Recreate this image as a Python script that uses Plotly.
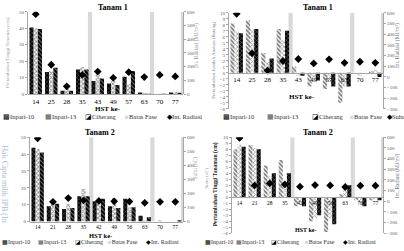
import plotly.graph_objects as go

# ---------------- data ----------------
hst1 = ["14", "25", "28", "35", "43", "49", "57", "63", "70", "77"]
hst2 = ["14", "21", "28", "35", "42", "49", "56", "63", "70", "77"]

# Tanam 1 - pertambahan tinggi tanaman (cm)
t1_tinggi_inpari10 = [40.5, 13.5, 2.0, 15.0, 8.0, 6.5, 10.5, 1.0, 0.0, 1.0]
t1_tinggi_inpari13 = [40.0, 14.0, 4.0, 16.5, 12.0, 8.0, 6.0, 0.3, -0.5, 1.5]
t1_tinggi_ciherang = [39.5, 16.0, 2.0, 15.0, 9.5, 5.5, 14.0, 0.2, 0.2, 0.5]
t1_radiasi = [583, 214, 57, 140, 164, 119, 160, 124, 140, 129]

# Tanam 1 - pertambahan jumlah anakan (batang)
t1_anakan_inpari10 = [8.2, 8.7, 3.3, 7.3, 1.0, -2.3, -2.7, -5.0, 0.0, 0.2]
t1_anakan_inpari13 = [6.9, 7.3, 2.0, 5.5, -0.5, -1.0, -1.5, -2.3, -0.5, 0.5]
t1_anakan_ciherang = [6.6, 7.3, 2.4, 7.0, -0.5, -1.3, -2.3, -2.3, 0.0, -0.7]
t1_suhu = [590, 220, 59, 148, 167, 125, 164, 131, 141, 131]

# Tanam 2 - pertambahan tinggi tanaman (cm)
t2_tinggi_inpari10 = [43.8, 9.0, 7.5, 15.0, 12.0, 9.0, 13.5, 3.5, 0.0, 0.0]
t2_tinggi_inpari13 = [43.0, 11.5, 10.5, 19.5, 12.0, 14.0, 8.5, 0.5, 0.5, 0.0]
t2_tinggi_ciherang = [41.0, 10.5, 8.0, 15.0, 13.5, 8.0, 8.5, 2.5, 0.0, 0.5]
t2_radiasi = [593, 140, 167, 151, 147, 144, 142, 133, 140, 140]

# Tanam 2 - right panel
t2_b_inpari10 = [8.0, 8.7, 5.3, 6.2, -1.5, -4.0, -5.8, 0.5, -0.5, -0.5]
t2_b_inpari13 = [8.8, 8.2, 3.5, 2.0, -1.0, -3.5, -3.5, 1.5, -1.0, -0.3]
t2_b_ciherang = [8.4, 8.0, 4.0, 4.0, -1.5, -3.0, -4.5, 2.0, -1.5, -0.5]
t2_b_radiasi = [594, 149, 168, 158, 137, 152, 149, 134, 146, 146]

# phase boundaries: located just after these HST categories
batas_fase_after = ["35", "63", "77"]

# ---------------- figure ----------------
W, H = 404, 251
SERIF = "Liberation Serif"


def px_x(x):
    return x / W


def px_y(y):
    return 1 - y / H


fig = go.Figure()

panels = [
    dict(cats=hst1, bars=[t1_tinggi_inpari10, t1_tinggi_inpari13, t1_tinggi_ciherang],
         line=t1_radiasi, lname="Int. Radiasi", xd=(28, 183), yd=(10, 94),
         lr=(0, 50), ld=10, rr=(0, 600), rd=100, ax=("x", "y", "y2"), style="A"),
    dict(cats=hst1, bars=[t1_anakan_inpari10, t1_anakan_inpari13, t1_anakan_ciherang],
         line=t1_suhu, lname="Suhu", xd=(229, 383), yd=(11, 109),
         lr=(-6, 10), ld=1, rr=(-300, 600), rd=100, ax=("x2", "y3", "y4"), style="B"),
    dict(cats=hst2, bars=[t2_tinggi_inpari10, t2_tinggi_inpari13, t2_tinggi_ciherang],
         line=t2_radiasi, lname="Int. Radiasi", xd=(30, 183), yd=(138, 224),
         lr=(0, 50), ld=10, rr=(0, 600), rd=100, ax=("x3", "y5", "y6"), style="A"),
    dict(cats=hst2, bars=[t2_b_inpari10, t2_b_inpari13, t2_b_ciherang],
         line=t2_b_radiasi, lname="Int. Radiasi", xd=(232, 383), yd=(138, 236),
         lr=(-6, 10), ld=1, rr=(-300, 600), rd=100, ax=("x4", "y7", "y8"), style="B"),
]

names = ["Inpari-10", "Inpari-13", "Ciherang"]
patterns = {
    "A": [dict(shape="x", fgcolor="#fff", bgcolor="#000", size=3, solidity=0.25),
          dict(shape="x", fgcolor="#222", bgcolor="#fff", size=3, solidity=0.5),
          dict(shape="\\", fgcolor="#fff", bgcolor="#000", size=3, solidity=0.3)],
    "B": [dict(shape="\\", fgcolor="#000", bgcolor="#fff", size=3, solidity=0.6),
          dict(shape="x", fgcolor="#333", bgcolor="#fff", size=3, solidity=0.45),
          dict(shape="x", fgcolor="#fff", bgcolor="#000", size=3, solidity=0.3)],
}
bw = 0.27
offsets = [-1.5 * bw, -0.5 * bw, 0.5 * bw]

layout_axes = {}
for i, p in enumerate(panels):
    xa, ya, ya2 = p["ax"]
    idx = list(range(len(p["cats"])))
    bpos = [p["cats"].index(c) + 0.5 for c in batas_fase_after]
    fig.add_trace(go.Bar(x=bpos, y=[p["lr"][1]] * len(bpos), width=0.27,
                         marker=dict(color="#d9d9d9", line=dict(width=0)),
                         name="Batas Fase", xaxis=xa, yaxis=ya, showlegend=False))
    for s, vals in enumerate(p["bars"]):
        fig.add_trace(go.Bar(x=idx, y=vals, width=bw, offset=offsets[s],
                             marker=dict(color="#000", pattern=patterns[p["style"]][s],
                                         line=dict(width=0)),
                             name=names[s], xaxis=xa, yaxis=ya, showlegend=False))
    fig.add_trace(go.Scatter(x=idx, y=p["line"], mode="markers",
                             marker=dict(symbol="diamond", size=6, color="#000"),
                             name=p["lname"], xaxis=xa, yaxis=ya2, showlegend=False))

    xdom = [px_x(p["xd"][0]), px_x(p["xd"][1])]
    ydom = [px_y(p["yd"][1]), px_y(p["yd"][0])]
    lr = p["lr"]
    zero_pos = ydom[0] + (0 - lr[0]) / (lr[1] - lr[0]) * (ydom[1] - ydom[0])
    xkey = "xaxis" + ("" if i == 0 else str(i + 1))
    ykey = "yaxis" + ya[1:]
    y2key = "yaxis" + ya2[1:]
    tick_sz = 7 if i < 2 else 5.5
    layout_axes[xkey] = dict(
        domain=xdom, range=[-0.5, 9.5], tickvals=idx, ticktext=p["cats"],
        anchor="free", position=zero_pos, showline=True, linecolor="#a6a6a6",
        linewidth=1, ticks="", tickfont=dict(family=SERIF, size=tick_sz, color="#000"),
        showgrid=False, zeroline=False, fixedrange=True)
    layout_axes[ykey] = dict(
        domain=ydom, range=list(lr), dtick=p["ld"], anchor=xa, showline=True,
        linecolor="#a6a6a6", linewidth=1, ticks="outside", ticklen=2,
        tickcolor="#a6a6a6", tickfont=dict(family=SERIF, size=5, color="#595959"),
        showgrid=False, zeroline=False)
    layout_axes[y2key] = dict(
        range=list(p["rr"]), dtick=p["rd"], overlaying=ya, side="right", anchor=xa,
        showline=True, linecolor="#a6a6a6", linewidth=1, ticks="outside", ticklen=2,
        tickcolor="#a6a6a6", tickfont=dict(family=SERIF, size=5, color="#595959"),
        showgrid=False, zeroline=False)

annotations = []


def ann(text, x, y, size=7, color="#000", angle=0, xanchor="center", bold=False):
    if bold:
        text = "<b>" + text + "</b>"
    annotations.append(dict(text=text, x=px_x(x), y=px_y(y), xref="paper", yref="paper",
                            showarrow=False, textangle=angle, xanchor=xanchor,
                            yanchor="middle", font=dict(family=SERIF, size=size, color=color)))


# titles
ann("Tanam 1", 113, 6, 8, bold=True)
ann("Tanam 1", 318, 6, 8, bold=True)
ann("Tanam 2", 100, 133, 8, bold=True)
ann("Tanam 2", 318, 133, 8, bold=True)
# HST ke-
ann("HST ke-", 108, 109.5, 7, bold=True)
ann("HST ke-", 302, 97, 7, bold=True)
ann("HST ke-", 100, 238, 6.5, bold=True)
ann("HST ke-", 305, 233, 6, bold=True)
# axis titles
ann("Pertambahan Tinggi Tanaman (cm)", 8, 52, 5, "#9a9a9a", -90)
ann("Int. Radiasi (MJ/m²)", 196, 45, 5.5, "#9a9a9a", -90)
ann("Pertambahan Jumlah Anakan (Batang)", 214, 60, 5, "#7a7a7a", -90)
ann("Int. Radiasi (MJ/m²)", 397, 45, 5.5, "#7a7a7a", -90)
ann("Suhu (oC)", 196, 170, 5.5, "#9a9a9a", -90)
ann("Pertambahan Tinggi Tanaman (cm)", 215, 186, 5.5, "#222", -90, bold=True)
ann("Suhu (oC)", 206, 180, 5, "#9a9a9a", -90)
ann("Int. Radiasi (MJ/m²)", 397, 178, 5.5, "#7a7a7a", -90)
# watermark
ann("Hak Cipta milik IPB (In", 5, 185, 8, "#a9bdd0", 90)


def legend(items, y, size):
    for sym, col, label, x in items:
        annotations.append(dict(
            text='<span style="color:%s">%s</span>%s' % (col, sym, label),
            x=px_x(x), y=px_y(y), xref="paper", yref="paper", showarrow=False,
            xanchor="left", yanchor="middle",
            font=dict(family=SERIF, size=size, color="#333")))


legend([("▩", "#000", "Inpari-10", 1), ("▦", "#555", "Inpari-13", 43),
        ("◪", "#000", "Ciherang", 83), ("■", "#d9d9d9", "Batas Fase", 123),
        ("◆", "#000", "Int. Radiasi", 165)], 117, 6.5)
legend([("▩", "#000", "Inpari-10", 221), ("▦", "#555", "Inpari-13", 265),
        ("◪", "#000", "Ciherang", 310), ("■", "#d9d9d9", "Batas Fase", 348),
        ("◆", "#000", "Suhu", 385)], 117, 6.5)
legend([("▩", "#000", "Inpari-10", 0), ("▦", "#555", "Inpari-13", 36),
        ("◪", "#000", "Ciherang", 73), ("■", "#d9d9d9", "Batas Fase", 106),
        ("◆", "#000", "Int. Radiasi", 144)], 245, 6)
legend([("▩", "#000", "Inpari-10", 203), ("▦", "#555", "Inpari-13", 234),
        ("◪", "#000", "Ciherang", 269), ("■", "#d9d9d9", "Batas Fase", 303),
        ("◆", "#000", "Int. Radiasi", 341)], 245, 6)

fig.update_layout(
    width=W, height=H, margin=dict(l=0, r=0, t=0, b=0),
    paper_bgcolor="#fff", plot_bgcolor="rgba(0,0,0,0)",
    barmode="overlay", showlegend=False, annotations=annotations,
    **layout_axes)

fig.write_html("out.html")
